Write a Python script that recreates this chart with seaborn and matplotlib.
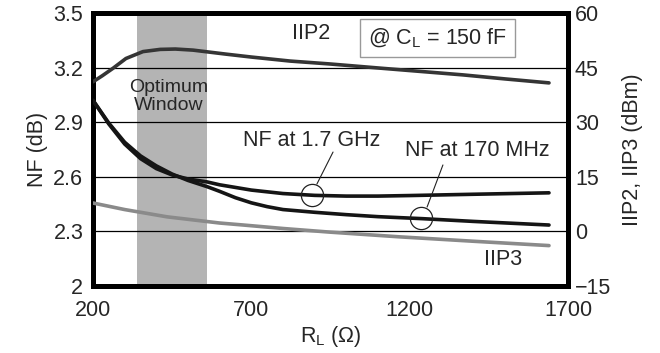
import matplotlib
matplotlib.use("Agg")
import matplotlib.pyplot as plt
import seaborn as sb
import pandas as pd

# load resistance (ohm) sample points
rl_17 = [200, 250, 300, 350, 400, 450, 500, 560, 600, 700, 800, 900, 1000, 1100, 1200, 1400, 1640]
nf_17ghz = [3.02, 2.89, 2.78, 2.70, 2.645, 2.61, 2.588, 2.572, 2.556, 2.527, 2.508, 2.498, 2.494, 2.494, 2.497, 2.504, 2.512]
rl_170 = [200, 250, 300, 350, 400, 450, 500, 560, 600, 650, 700, 750, 800, 900, 1000, 1100, 1240, 1400, 1640]
nf_170mhz = [3.02, 2.895, 2.79, 2.715, 2.66, 2.615, 2.58, 2.546, 2.52, 2.485, 2.457, 2.436, 2.42, 2.405, 2.392, 2.381, 2.37, 2.355, 2.335]

rl_iip2 = [200, 230, 263, 304, 358, 412, 460, 516, 620, 700, 822, 948, 1100, 1368, 1500, 1640]
iip2 = [41.1, 42.8, 44.8, 47.5, 49.4, 50.0, 50.1, 49.8, 48.7, 47.9, 46.8, 46.0, 44.9, 43.0, 41.9, 40.8]

rl_iip3 = [200, 300, 434, 600, 675, 800, 948, 1169, 1400, 1640]
iip3 = [7.8, 6.0, 4.0, 2.3, 1.75, 0.8, -0.2, -1.5, -2.7, -3.9]

window = (340, 560)
x_ticks = [200, 700, 1200, 1700]
nf_ticks = [2, 2.3, 2.6, 2.9, 3.2, 3.5]
nf_tick_labels = ["2", "2.3", "2.6", "2.9", "3.2", "3.5"]
iip_ticks = [-15, 0, 15, 30, 45, 60]

sb.set_style("white")
plt.rcParams['font.family'] = ['Liberation Sans', 'DejaVu Sans']
plt.rcParams['mathtext.fontset'] = 'custom'
plt.rcParams['mathtext.rm'] = 'Liberation Sans'
plt.rcParams['mathtext.it'] = 'Liberation Sans'
fs = 15.5

fig = plt.figure(figsize=(6.6, 3.53), dpi=100)
ax = fig.add_axes([93/660, 1-286/353, 475/660, 273/353])

ax.axvspan(window[0], window[1], color='#b4b4b4', lw=0, zorder=0)
for v in nf_ticks[1:-1]:
    ax.axhline(v, color='black', lw=0.9, zorder=1)

sb.lineplot(x=rl_17, y=nf_17ghz, ax=ax, color='#151515', lw=2.6, zorder=3)
sb.lineplot(x=rl_170, y=nf_170mhz, ax=ax, color='#151515', lw=2.6, zorder=3)

ax.set_xlim(200, 1700)
ax.set_ylim(2, 3.5)
ax.set_xticks(x_ticks)
ax.set_yticks(nf_ticks)
ax.set_yticklabels(nf_tick_labels)
ax.tick_params(axis='x', direction='in', length=6, width=1, pad=10, labelsize=fs)
ax.tick_params(axis='y', length=0, pad=7, labelsize=fs)
ax.set_xlabel(r'R$_\mathregular{L}$ ($\Omega$)', fontsize=fs, labelpad=2)
ax.set_ylabel('NF (dB)', fontsize=fs, labelpad=4)
for s in ax.spines.values():
    s.set_linewidth(3.6)
    s.set_color('black')

ax2 = ax.twinx()
sb.lineplot(x=rl_iip2, y=iip2, ax=ax2, color='#353535', lw=2.6)
sb.lineplot(x=rl_iip3, y=iip3, ax=ax2, color='#8a8a8a', lw=2.6)
ax2.set_ylim(-15, 60)
ax2.set_yticks(iip_ticks)
ax2.tick_params(axis='y', length=0, pad=5, labelsize=fs)
ax2.set_ylabel('IIP2, IIP3 (dBm)', fontsize=fs, labelpad=8)
for s in ax2.spines.values():
    s.set_visible(False)

# text labels
ax.text(440, 3.04, 'Optimum\nWindow', ha='center', va='center', fontsize=14, linespacing=1.05)
ax.text(888, 3.39, 'IIP2', ha='center', va='center', fontsize=fs)
ax.text(892, 2.80, 'NF at 1.7 GHz', ha='center', va='center', fontsize=fs)
ax.text(1414, 2.747, 'NF at 170 MHz', ha='center', va='center', fontsize=fs)
ax.text(1495, 2.143, 'IIP3', ha='center', va='center', fontsize=fs)
ax.text(1288, 3.363, r'@ C$_\mathregular{L}$ = 150 fF', ha='center', va='center', fontsize=fs,
        bbox=dict(boxstyle='square,pad=0.35', fc='white', ec='#999999', lw=1))

# circled markers with leader lines
ax.plot([892], [2.50], 'o', ms=16, mfc='none', mec='#222222', mew=0.9, zorder=5)
ax.plot([907, 958], [2.56, 2.736], color='#222222', lw=0.8, zorder=5)
ax.plot([1236], [2.374], 'o', ms=16, mfc='none', mec='#222222', mew=0.9, zorder=5)
ax.plot([1255, 1305], [2.434, 2.665], color='#222222', lw=0.8, zorder=5)

plt.savefig('out.png', dpi=100)
